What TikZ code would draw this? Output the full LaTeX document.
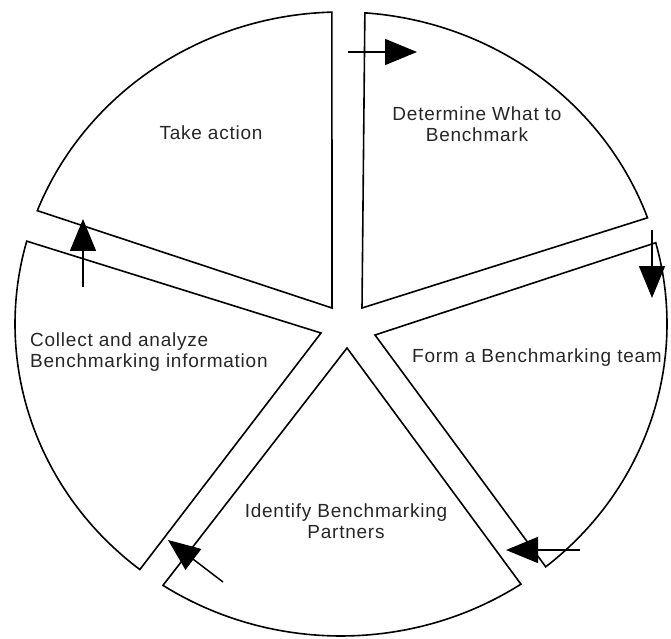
\documentclass[tikz,border=0pt]{standalone}
\usepackage{fontspec}
\setmainfont{Liberation Sans}[LetterSpace=4]
\usetikzlibrary{arrows.meta,calc}
\begin{document}
\begin{tikzpicture}[x=1pt,y=1pt,
  sector/.style={draw=black,line width=1.6pt,line join=miter},
  flow/.style={draw=black,line width=1.5pt,-{Triangle[length=32pt,width=26pt]}},
  lbl/.style={text=black!85,font=\fontsize{19}{21}\selectfont,inner sep=0pt}]
\useasboundingbox (0,0) rectangle (671,638);
\coordinate (C) at (341,314);
\def\rx{326}\def\ry{312}
% apexes
\coordinate (aT) at (332,330);
\coordinate (aD) at (362,330);
\coordinate (aF) at (375,303);
\coordinate (aI) at (347,290);
\coordinate (aC) at (321,305);
% Take action
\draw[sector] (aT) -- ($(C)+(158.7:\rx pt and \ry pt)$) arc[start angle=158.7,end angle=91.6,x radius=\rx pt,y radius=\ry pt] -- cycle;
% Determine
\draw[sector] (aD) -- ($(C)+(85.8:\rx pt and \ry pt)$) arc[start angle=85.8,end angle=19.9,x radius=\rx pt,y radius=\ry pt] -- cycle;
% Form team
\draw[sector] (aF) -- ($(C)+(15.1:\rx pt and \ry pt)$) arc[start angle=15.1,end angle=-51.1,x radius=\rx pt,y radius=\ry pt] -- cycle;
% Identify
\draw[sector] (aI) -- ($(C)+(-56.5:\rx pt and \ry pt)$) arc[start angle=-56.5,end angle=-123.1,x radius=\rx pt,y radius=\ry pt] -- cycle;
% Collect
\draw[sector] (aC) -- ($(C)+(-128.1:\rx pt and \ry pt)$) arc[start angle=-128.1,end angle=-195.4,x radius=\rx pt,y radius=\ry pt] -- cycle;
% labels
\node[lbl] (tTake) at (211,505) {Take action};
\node[lbl,align=center] (tDet) at (477,514) {Determine What to\\Benchmark};
\node[lbl,anchor=west] (tForm) at (412,280) {Form a Benchmarking team};
\node[lbl,align=center] (tId) at (346,117) {Identify Benchmarking\\Partners};
\node[lbl,align=left,anchor=west] (tCol) at (30,286) {Collect and analyze\\Benchmarking information};
% arrows
\coordinate (r1s) at (348,586); \coordinate (r1e) at (417,586);
\coordinate (r2s) at (652,408); \coordinate (r2e) at (652,340);
\coordinate (r3s) at (580,88);  \coordinate (r3e) at (506,88);
\coordinate (r4s) at (223,56);  \coordinate (r4e) at (168,98);
\coordinate (r5s) at (83,351);  \coordinate (r5e) at (83,419);
\draw[flow] (r1s) -- (r1e);
\draw[flow] (r2s) -- (r2e);
\draw[flow] (r3s) -- (r3e);
\draw[flow] (r4s) -- (r4e);
\draw[flow] (r5s) -- (r5e);
\end{tikzpicture}
\end{document}
